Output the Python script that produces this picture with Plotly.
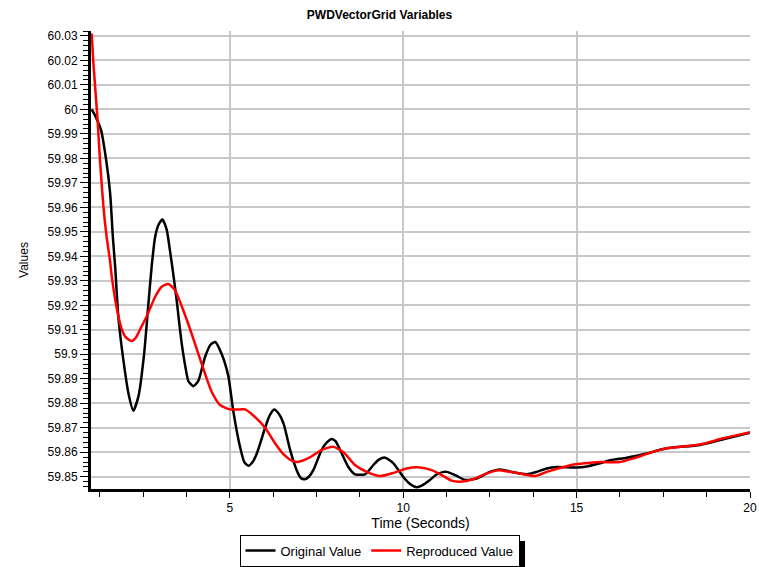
import plotly.graph_objects as go

orig_t = [1.02, 1.12, 1.29, 1.45, 1.55, 1.63, 1.70, 1.79, 1.93, 2.08, 2.22, 2.37, 2.53, 2.64, 2.75,
          2.85, 2.95, 3.06, 3.18, 3.28, 3.37, 3.47, 3.61, 3.72, 3.81, 3.95, 4.09, 4.29, 4.45, 4.58,
          4.77, 4.96, 5.10, 5.30, 5.42, 5.54, 5.66, 5.78, 6.02, 6.15, 6.28, 6.40, 6.55, 6.74, 6.93,
          7.05, 7.17, 7.28, 7.41, 7.65, 7.80, 7.94, 8.05, 8.18, 8.42, 8.61, 8.90, 9.14, 9.30, 9.48,
          9.72, 10.00, 10.20, 10.39, 10.55, 10.77, 10.95, 11.16, 11.25, 11.50, 11.78, 12.12, 12.50,
          12.79, 13.18, 13.56, 13.85, 14.14, 14.43, 14.91, 15.20, 15.68, 15.97, 16.45, 17.02, 17.60,
          18.56, 19.23, 20.00]
orig_v = [60.000, 59.9974, 59.9915, 59.978, 59.966, 59.948, 59.935, 59.915, 59.898, 59.884, 59.877,
          59.883, 59.900, 59.918, 59.936, 59.948, 59.953, 59.955, 59.951, 59.942, 59.933, 59.922,
          59.905, 59.895, 59.889, 59.887, 59.889, 59.899, 59.904, 59.905, 59.900, 59.891, 59.877,
          59.862, 59.856, 59.8545, 59.856, 59.8595, 59.870, 59.875, 59.8775, 59.876, 59.8718,
          59.861, 59.8527, 59.8495, 59.849, 59.850, 59.8527, 59.861, 59.864, 59.8654, 59.8645,
          59.861, 59.854, 59.851, 59.851, 59.8548, 59.857, 59.8578, 59.8555, 59.850, 59.847,
          59.8457, 59.8465, 59.8487, 59.8508, 59.852, 59.852, 59.8507, 59.8487, 59.8493, 59.852,
          59.853, 59.8518, 59.851, 59.852, 59.8534, 59.854, 59.8538, 59.854, 59.8555, 59.8568,
          59.8578, 59.8595, 59.8616, 59.863, 59.8653, 59.868]

rep_t = [1.02, 1.07, 1.19, 1.26, 1.36, 1.45, 1.55, 1.60, 1.74, 1.88, 2.00, 2.17, 2.30, 2.41, 2.60,
         2.85, 3.04, 3.23, 3.42, 3.66, 3.90, 4.09, 4.29, 4.48, 4.72, 5.01, 5.30, 5.44, 5.68, 6.02,
         6.31, 6.57, 6.80, 6.98, 7.31, 7.65, 7.99, 8.28, 8.61, 8.95, 9.33, 9.72, 10.10, 10.49,
         10.82, 11.16, 11.40, 11.64, 12.02, 12.41, 12.74, 13.08, 13.47, 13.80, 14.14, 14.62,
         15.00, 15.39, 15.68, 16.25, 16.64, 17.12, 17.60, 18.56, 19.23, 20.00]
rep_v = [60.031, 60.0187, 59.9956, 59.979, 59.960, 59.948, 59.938, 59.9316, 59.919, 59.9106,
         59.907, 59.9054, 59.907, 59.910, 59.9153, 59.9235, 59.9276, 59.9287, 59.9262, 59.918,
         59.9085, 59.9004, 59.892, 59.8847, 59.8793, 59.8775, 59.8775, 59.8775, 59.875, 59.870,
         59.8636, 59.8589, 59.8565, 59.8561, 59.8579, 59.861, 59.8622, 59.860, 59.8548, 59.852,
         59.8503, 59.8516, 59.8534, 59.8538, 59.8527, 59.8503, 59.8484, 59.848, 59.849, 59.8514,
         59.8527, 59.852, 59.851, 59.8503, 59.852, 59.854, 59.8552, 59.8557, 59.856, 59.856,
         59.8575, 59.8598, 59.8616, 59.8632, 59.8657, 59.8682]

FONT = "Liberation Sans, Arial, sans-serif"

fig = go.Figure()
fig.add_trace(go.Scatter(x=orig_t, y=orig_v, mode="lines", name="Original Value",
                         line=dict(color="#000000", width=2.5, shape="spline", smoothing=0.6)))
fig.add_trace(go.Scatter(x=rep_t, y=rep_v, mode="lines", name="Reproduced Value",
                         line=dict(color="#ff0000", width=2.5, shape="spline", smoothing=0.6)))

# drop shadow behind the legend box (paper coordinates, outside the plot area)
fig.add_shape(type="rect", xref="paper", yref="paper",
              x0=0.2322, x1=0.6586, y0=-0.1769, y1=-0.1135,
              fillcolor="#000000", line=dict(width=0), layer="below")

fig.update_layout(
    width=759, height=567,
    margin=dict(l=91, r=9, t=31, b=78),
    paper_bgcolor="white", plot_bgcolor="white",
    font=dict(family=FONT, size=12, color="#000000"),
    title=dict(text="<b>PWDVectorGrid Variables</b>", x=0.5, xref="container", xanchor="center",
               y=1 - 15 / 567, yref="container", yanchor="middle",
               font=dict(family=FONT, size=12, color="#000000")),
    showlegend=True,
    legend=dict(orientation="h", xref="container", x=0.5, xanchor="center",
                yref="container", y=1 - 550.5 / 567, yanchor="middle",
                bordercolor="#000000", borderwidth=1, bgcolor="white",
                font=dict(family=FONT, size=13), itemwidth=30, tracegroupgap=0),
    xaxis=dict(range=[1, 20], tick0=0, dtick=5, showgrid=True, gridcolor="#c8c8c8", gridwidth=1.5,
               zeroline=False, showline=True, linecolor="#000000", linewidth=2.5,
               ticks="outside", ticklen=6, tickcolor="#000000", tickwidth=1,
               tickfont=dict(size=12), automargin=False,
               minor=dict(tick0=0, dtick=1.25, ticks="outside", ticklen=5, tickcolor="#000000",
                          showgrid=False),
               title=dict(text="Time (Seconds)", font=dict(size=14), standoff=3)),
    yaxis=dict(range=[59.845, 60.032], tick0=59.85, dtick=0.01, tickformat=".4~g",
               showgrid=True, gridcolor="#c8c8c8", gridwidth=1.5,
               zeroline=False, showline=True, linecolor="#000000", linewidth=3,
               ticks="outside", ticklen=8, tickcolor="#000000", tickwidth=1,
               tickfont=dict(size=12), automargin=False,
               minor=dict(tick0=59.85, dtick=0.002, ticks="outside", ticklen=5, tickcolor="#000000",
                          showgrid=False),
               title=dict(text="Values", font=dict(size=12), standoff=17)),
)

fig.write_html("out.html")
